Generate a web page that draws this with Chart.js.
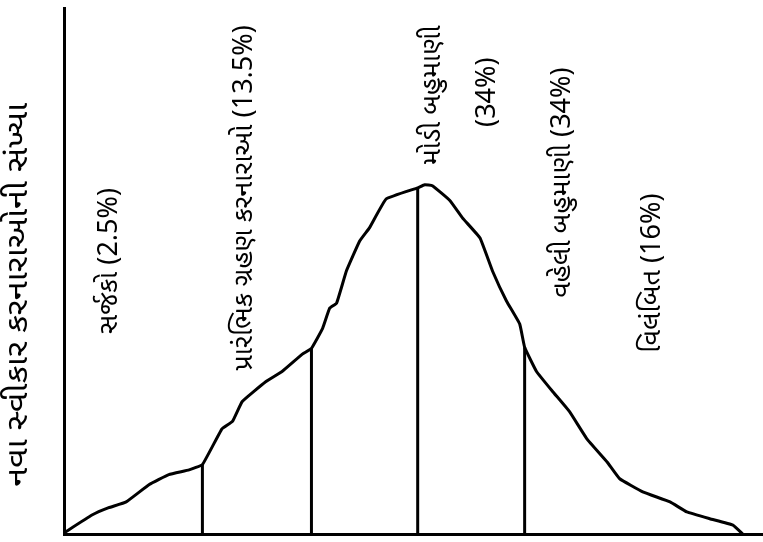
<!DOCTYPE html>
<html lang="gu">
<head>
  <meta charset="UTF-8">
  <title>નવા સ્વીકાર કરનારાઓ</title>
  <script src="https://cdn.jsdelivr.net/npm/chart.js"></script>
  <style>
    html, body { margin: 0; padding: 0; background: #fff; }
    #wrap { width: 763px; height: 542px; }
  </style>
</head>
<body>
  <div id="wrap"><canvas id="chart" width="763" height="542"></canvas></div>

  <script>
    // curve (x: position along axis 0-100, y: relative count 0-100)
    const curveX = [0, 4, 6.4, 8.9, 12.2, 15, 17.9, 19.8, 22.6, 24.1, 25.5, 28.9, 31.2, 34.1, 35.4,
      37, 38, 39, 40.4, 42.3, 43.7, 46.1, 50.6, 51.6, 52.7, 55.2, 57, 59.5, 61.3, 63.3, 65.2, 65.9,
      67.6, 69.9, 72.3, 74.8, 77.7, 79.5, 82.8, 86.7, 89.1, 92.4, 95.7, 97.1];
    const curveY = [0.2, 3.6, 5, 6.1, 9.4, 11.3, 12.2, 13.2, 20, 21.4, 25.2, 29, 30.9, 34.2, 35.3,
      39.1, 42.9, 43.9, 50, 55.7, 58.2, 63.7, 65.8, 66.4, 66.2, 63.4, 60.1, 56.3, 50, 44.3, 39.9, 35.5,
      30.9, 27.1, 23.3, 18.1, 13.7, 10.5, 8, 6.1, 4.2, 2.9, 1.7, 0];

    // vertical dividers between the groups
    const dividerX = [19.8, 35.4, 50.6, 65.9];
    const dividerTop = [13.2, 35.3, 65.8, 35.5];

    // group labels and where they sit (data units)
    const groupLabels = ['સર્જકો (2.5%)', 'પ્રારંભિક ગ્રહણ કરનારાઓ (13.5%)', 'મોડી બહુમાણી', '(34%)', 'વહેલી બહુમાણી (34%)', 'વિલંબિત (16%)'];
    const labelX = [6.9, 26.2, 53, 60.9, 71.6, 84.5];
    const labelY = [51.9, 63.9, 83.4, 84, 66.8, 49.6];

    const yTitle = 'નવા સ્વીકાર કરનારાઓની સંખ્યા';

    const FONT = "'Noto Sans Gujarati', 'Noto Sans', 'DejaVu Sans', sans-serif";

    const datasets = [{
      data: curveX.map((x, i) => ({ x, y: curveY[i] })),
      borderColor: '#000',
      borderWidth: 3,
      pointRadius: 0,
      tension: 0.1,
      fill: false
    }];
    dividerX.forEach((x, i) => {
      datasets.push({
        data: [{ x, y: 0 }, { x, y: dividerTop[i] }],
        borderColor: '#000',
        borderWidth: 3,
        pointRadius: 0,
        fill: false
      });
    });

    function vText(ctx, t, x, y, stretch) {
      ctx.save();
      ctx.translate(x, y);
      ctx.rotate(-Math.PI / 2);
      ctx.scale(stretch, 1);
      ctx.fillText(t, 0, 0);
      ctx.restore();
    }

    const rotatedLabels = {
      id: 'rotatedLabels',
      afterDatasetsDraw(chart) {
        const ctx = chart.ctx;
        const xs = chart.scales.x, ys = chart.scales.y;
        ctx.save();
        ctx.fillStyle = '#000';
        ctx.textAlign = 'center';
        ctx.textBaseline = 'middle';
        ctx.font = '27px ' + FONT;
        groupLabels.forEach((t, i) => {
          vText(ctx, t, xs.getPixelForValue(labelX[i]), ys.getPixelForValue(labelY[i]), 1);
        });
        // axis title, sits left of the y axis
        ctx.font = '30px ' + FONT;
        vText(ctx, yTitle, xs.left - 43, ys.getPixelForValue(45.5), 1.14);
        ctx.restore();
      }
    };

    new Chart(document.getElementById('chart'), {
      type: 'line',
      data: { datasets },
      options: {
        responsive: false,
        animation: false,
        layout: { padding: { top: 8, right: 0, bottom: 8, left: 64 } },
        plugins: { legend: { display: false }, tooltip: { enabled: false } },
        scales: {
          x: {
            type: 'linear', min: 0, max: 100,
            ticks: { display: false },
            grid: { display: false, drawTicks: false },
            border: { color: '#000', width: 3 }
          },
          y: {
            min: 0, max: 100,
            ticks: { display: false },
            grid: { display: false, drawTicks: false },
            border: { color: '#000', width: 3 }
          }
        }
      },
      plugins: [rotatedLabels]
    });
  </script>
</body>
</html>
